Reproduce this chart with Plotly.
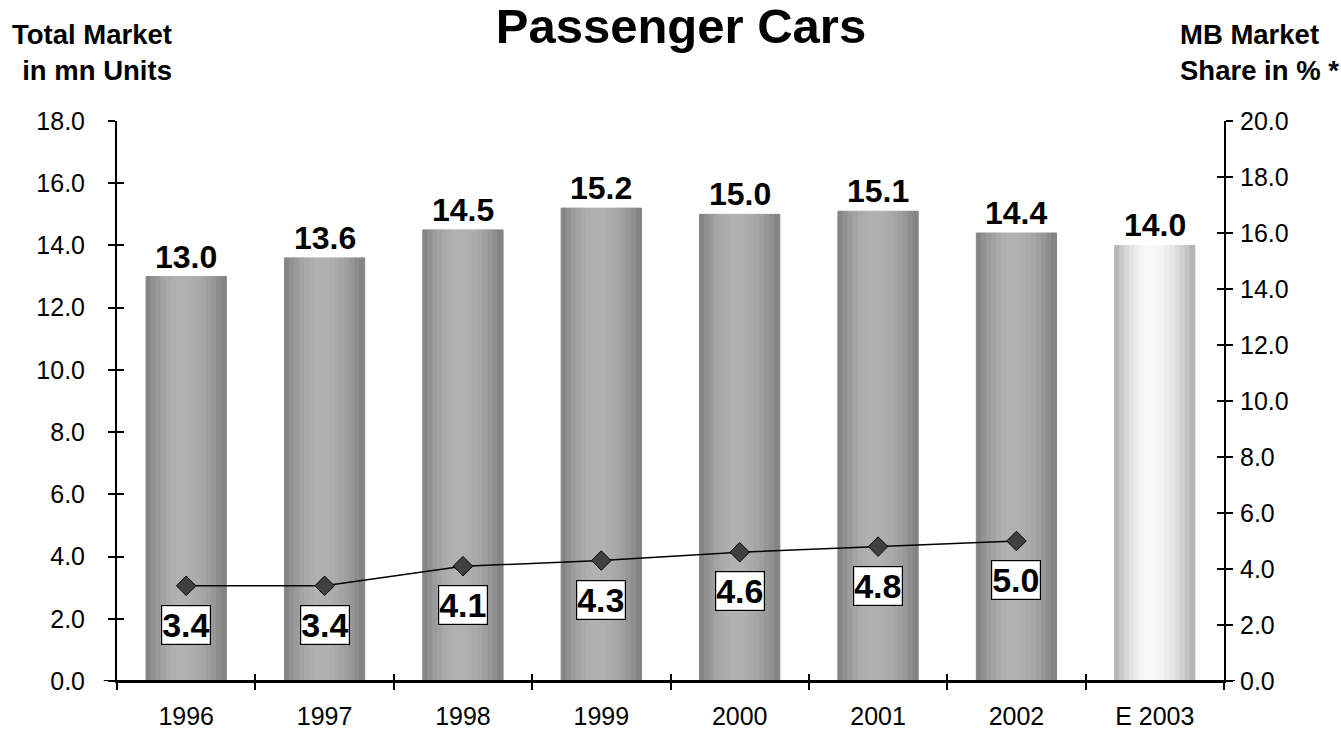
import numpy as np
import plotly.graph_objects as go

# ---- data ----
years = ["1996", "1997", "1998", "1999", "2000", "2001", "2002", "E 2003"]
market_mn_units = [13.0, 13.6, 14.5, 15.2, 15.0, 15.1, 14.4, 14.0]
share_years = ["1996", "1997", "1998", "1999", "2000", "2001", "2002"]
mb_share_pct = [3.4, 3.4, 4.1, 4.3, 4.6, 4.8, 5.0]
left_ticks = [0, 2, 4, 6, 8, 10, 12, 14, 16, 18]
right_ticks = [0, 2, 4, 6, 8, 10, 12, 14, 16, 18, 20]
forecast_label = "E 2003"

FONT = "Arial, Liberation Sans, sans-serif"

# ---- cylinder-like shading: each bar is built from vertical strips ----
N_STRIPS = 16
PEAK = 0.45


def shade(t, edge, top):
    d = (PEAK - t) / PEAK if t < PEAK else (t - PEAK) / (1 - PEAK)
    v = edge + (top - edge) * np.cos(d * np.pi / 2) ** 0.8
    g = int(round(v))
    return f"rgb({g},{g},{g})"


fig = go.Figure()
for i in range(N_STRIPS):
    t = (i + 0.5) / N_STRIPS
    colors = [shade(t, 168, 249) if y == forecast_label else shade(t, 124, 177)
              for y in years]
    fig.add_trace(go.Bar(
        x=years, y=market_mn_units,
        # an outline in the strip's own colour hides the seams between strips
        marker=dict(color=colors, line=dict(width=1, color=colors)),
        showlegend=False, hoverinfo="skip",
    ))

# market share line on the right axis
fig.add_trace(go.Scatter(
    x=share_years, y=mb_share_pct, yaxis="y2",
    mode="lines+markers",
    line=dict(color="black", width=1.5),
    marker=dict(symbol="diamond", size=15, color="#404040",
                line=dict(color="black", width=1)),
    showlegend=False, hoverinfo="skip",
))

# empty traces so the tick-only overlay axes get their own subplots
for xa, ya in (("x2", "y"), ("x", "y3"), ("x", "y4")):
    fig.add_trace(go.Scatter(x=[None], y=[None], xaxis=xa, yaxis=ya,
                             mode="markers", showlegend=False,
                             hoverinfo="skip"))

annotations = []
# totals above the bars (x given as category index)
for i, v in enumerate(market_mn_units):
    annotations.append(dict(
        x=i, y=v, xref="x", yref="y", text=f"<b>{v:.1f}</b>",
        showarrow=False, yanchor="bottom", yshift=0,
        font=dict(family=FONT, size=32, color="black"),
    ))
# boxed share values below the markers
for i, v in enumerate(mb_share_pct):
    annotations.append(dict(
        x=i, y=v, xref="x", yref="y2", text=f"<b>{v:.1f}</b>",
        showarrow=False, yanchor="middle", yshift=-39,
        bgcolor="white", bordercolor="black", borderwidth=1.2, borderpad=0,
        font=dict(family=FONT, size=34, color="black"),
    ))
# axis headings
annotations.append(dict(
    x=0.0515, y=1.123, xref="paper", yref="paper",
    text="<b>Total Market<br>in mn Units</b>", align="right",
    xanchor="right", yanchor="middle", showarrow=False,
    font=dict(family=FONT, size=27.5, color="black"),
))
annotations.append(dict(
    x=0.9585, y=1.123, xref="paper", yref="paper",
    text="<b>MB Market<br>Share in % *</b>", align="left",
    xanchor="left", yanchor="middle", showarrow=False,
    font=dict(family=FONT, size=27.5, color="black"),
))

axis_common = dict(showgrid=False, zeroline=False, tickcolor="black",
                   tickwidth=1.5, ticklen=7, automargin=False)

fig.update_layout(
    width=1341, height=732,
    margin=dict(l=117, r=117, t=121, b=51),
    paper_bgcolor="white", plot_bgcolor="white",
    barmode="group", bargap=0.42, bargroupgap=0,
    title=dict(text="<b>Passenger Cars</b>", x=0.5078, y=0.965,
               xanchor="center", yanchor="middle",
               font=dict(family=FONT, size=49, color="black")),
    font=dict(family=FONT, color="black"),
    xaxis=dict(type="category", categoryorder="array", categoryarray=years,
               range=[-0.5, 7.5], tickson="boundaries", ticks="outside",
               showline=True, linecolor="black", linewidth=2,
               tickfont=dict(size=25), ticklabelstandoff=12, **axis_common),
    xaxis2=dict(overlaying="x", anchor="y", type="linear", range=[-0.5, 7.5],
                tickvals=[k - 0.5 for k in range(len(years) + 1)],
                ticks="inside", showticklabels=False, showline=False,
                **axis_common),
    yaxis=dict(range=[0, 18], tickvals=left_ticks, tickformat=".1f",
               ticks="outside", showline=True, linecolor="black", linewidth=2,
               tickfont=dict(size=25), ticklabelstandoff=18, **axis_common),
    yaxis2=dict(overlaying="y", side="right", anchor="x", range=[0, 20],
                tickvals=right_ticks, tickformat=".1f", ticks="outside",
                showline=True, linecolor="black", linewidth=2,
                tickfont=dict(size=25), ticklabelstandoff=2, **axis_common),
    yaxis3=dict(overlaying="y", side="left", anchor="x", range=[0, 18],
                tickvals=left_ticks, ticks="inside", showticklabels=False,
                showline=False, **axis_common),
    yaxis4=dict(overlaying="y", side="right", anchor="x", range=[0, 20],
                tickvals=right_ticks, ticks="inside", showticklabels=False,
                showline=False, **axis_common),
    annotations=annotations,
    shapes=[dict(type="line", xref="paper", yref="y", x0=-0.012, x1=1.01,
                 y0=0, y1=0, line=dict(color="black", width=2), layer="above")],
)

fig.write_html("out.html")
